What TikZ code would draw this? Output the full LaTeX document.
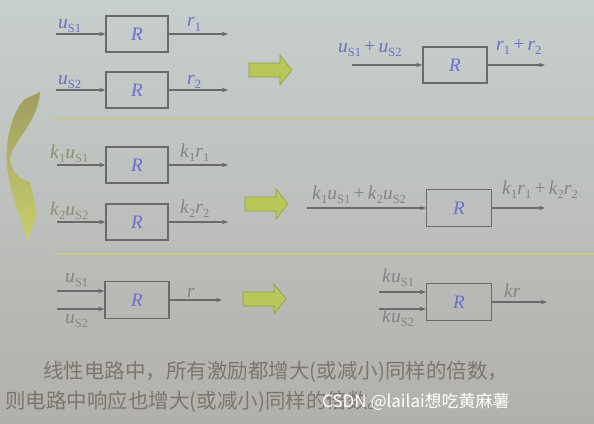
\documentclass[tikz,border=0pt]{standalone}
\usepackage{fontspec}
\setmainfont{Liberation Serif}
\newfontfamily\cjk{Noto Sans CJK SC}
\usetikzlibrary{arrows.meta}
\definecolor{labblue}{HTML}{6A6EC4}
\definecolor{labolive}{HTML}{8A9070}
\definecolor{labgrey}{HTML}{838383}
\definecolor{rblue}{HTML}{6B6FCC}
\definecolor{lineg}{HTML}{6A6A6A}
\definecolor{sepc}{HTML}{C9C88F}
\definecolor{garrfill}{HTML}{B8C65A}
\definecolor{garrdraw}{HTML}{93A045}
\definecolor{txtc}{HTML}{7C766E}
\newcommand\myvs[2]{\textit{#1}\raisebox{-0.5ex}{\fontsize{12.5}{12.5}\selectfont #2}}
\tikzset{
  rbox/.style={draw=lineg, line width=1.4pt, minimum width=62pt, minimum height=36pt,
    inner sep=0pt, font=\fontsize{19}{19}\selectfont\itshape, text=rblue},
  sig/.style={draw=lineg, line width=1.2pt, -{Stealth[length=6pt,width=4.5pt]}},
  lab/.style={anchor=base west, inner sep=0pt, font=\fontsize{19.5}{19.5}\selectfont},
  sepline/.style={draw=sepc, line width=2.5pt},
  pics/garrow/.style={code={
    \draw[fill=garrfill, draw=garrdraw, line width=0.6pt]
      (0,-7) -- (31,-7) -- (31,-15) -- (43,0) -- (31,15) -- (31,7) -- (0,7) -- cycle;}},
  ctext/.style={anchor=west, inner sep=0pt, text=txtc, font=\cjk\fontsize{20.5}{20.5}\selectfont}
}
\begin{document}
\begin{tikzpicture}[x=1pt,y=-1pt]
\useasboundingbox (0,0) rectangle (594,423);
\shade[top color={rgb,255:red,199;green,207;blue,205}, bottom color={rgb,255:red,178;green,176;blue,171}] (0,0) rectangle (594,423);

% separators
\draw[sepline] (55,118) -- (594,118);
\draw[sepline] (55,254) -- (594,254);

% curved arrow
\shade[top color={rgb,255:red,160;green,156;blue,96}, bottom color={rgb,255:red,200;green,206;blue,110}]
  (40,92) -- (25,99) .. controls (12,112) and (5,140) .. (7,165)
  .. controls (10,195) and (20,215) .. (28,240) -- (37,213) -- (30,182)
  .. controls (20,180) and (11,172) .. (10,160)
  .. controls (10,145) and (33,128) .. (39,100) -- cycle;

% ---------- Row 1 ----------
\node[rbox] (b1) at (137,34) {R};
\coordinate (i1) at (56,34); \coordinate (o1) at (228,34);
\draw[sig] (i1) -- (b1); \draw[sig] (b1) -- (o1);
\node[lab, text=labblue] (l1) at (58,28) {\myvs{u}{S1}};
\node[lab, text=labblue] (r1) at (187,27) {\myvs{r}{1}};

\node[rbox] (b2) at (137,90) {R};
\coordinate (i2) at (56,90); \coordinate (o2) at (228,90);
\draw[sig] (i2) -- (b2); \draw[sig] (b2) -- (o2);
\node[lab, text=labblue] (l2) at (58,84) {\myvs{u}{S2}};
\node[lab, text=labblue] (r2) at (187,84) {\myvs{r}{2}};

\pic at (249,70) {garrow};

\node[rbox, minimum width=64pt] (b3) at (455,65) {R};
\coordinate (i3) at (352,65); \coordinate (o3) at (545,65);
\draw[sig] (i3) -- (b3); \draw[sig] (b3) -- (o3);
\node[lab, text=labblue] (l3) at (338,52) {\myvs{u}{S1}\,+\,\myvs{u}{S2}};
\node[lab, text=labblue] (r3) at (496,50) {\myvs{r}{1}\,+\,\myvs{r}{2}};

% ---------- Row 2 ----------
\node[rbox] (b4) at (137,165) {R};
\coordinate (i4) at (57,165); \coordinate (o4) at (228,165);
\draw[sig] (i4) -- (b4); \draw[sig] (b4) -- (o4);
\node[lab, text=labolive] (l4) at (50,158) {\myvs{k}{1}\myvs{u}{S1}};
\node[lab, text=labgrey] (r4) at (180,157) {\myvs{k}{1}\myvs{r}{1}};

\node[rbox] (b5) at (137,222) {R};
\coordinate (i5) at (57,222); \coordinate (o5) at (228,222);
\draw[sig] (i5) -- (b5); \draw[sig] (b5) -- (o5);
\node[lab, text=labolive] (l5) at (50,215) {\myvs{k}{2}\myvs{u}{S2}};
\node[lab, text=labgrey] (r5) at (180,213) {\myvs{k}{2}\myvs{r}{2}};

\pic at (245,204) {garrow};

\node[rbox, minimum width=65pt, minimum height=37pt] (b6) at (459,208) {R};
\coordinate (i6) at (307,208); \coordinate (o6) at (545,208);
\draw[sig] (i6) -- (b6); \draw[sig] (b6) -- (o6);
\node[lab, text=labgrey] (l6) at (312,199) {\myvs{k}{1}\myvs{u}{S1}\,+\,\myvs{k}{2}\myvs{u}{S2}};
\node[lab, text=labgrey] (r6) at (502,194) {\myvs{k}{1}\myvs{r}{1}\,+\,\myvs{k}{2}\myvs{r}{2}};

% ---------- Row 3 ----------
\node[rbox, minimum width=64pt, minimum height=37pt] (b7) at (137,300) {R};
\coordinate (i7a) at (57,291); \coordinate (i7b) at (57,309); \coordinate (o7) at (222,300);
\draw[sig] (i7a) -- (i7a -| b7.west);
\draw[sig] (i7b) -- (i7b -| b7.west);
\draw[sig] (b7) -- (o7);
\node[lab, text=labgrey] (l7a) at (65,282) {\myvs{u}{S1}};
\node[lab, text=labgrey] (l7b) at (65,323) {\myvs{u}{S2}};
\node[lab, text=labgrey] (r7) at (187,297) {\textit{r}};

\pic at (243,299) {garrow};

\node[rbox, minimum width=65pt, minimum height=37pt] (b8) at (459,302) {R};
\coordinate (i8a) at (379,292); \coordinate (i8b) at (379,309); \coordinate (o8) at (547,302);
\draw[sig] (i8a) -- (i8a -| b8.west);
\draw[sig] (i8b) -- (i8b -| b8.west);
\draw[sig] (b8) -- (o8);
\node[lab, text=labgrey] (l8a) at (382,282) {\textit{k}\myvs{u}{S1}};
\node[lab, text=labgrey] (l8b) at (382,322) {\textit{k}\myvs{u}{S2}};
\node[lab, text=labgrey] (r8) at (504,297) {\textit{kr}};

% ---------- Text ----------
\node[ctext] (t1) at (43,372) {线性电路中，所有激励都增大(或减小)同样的倍数，};
\node[ctext] (t2) at (5,402) {则电路中响应也增大(或减小)同样的倍数。};
\node[anchor=west, inner sep=0pt, text=white, font=\cjk\fontsize{17}{17}\selectfont] (wm) at (322,402) {CSDN @lailai想吃黄麻薯};
\end{tikzpicture}
\end{document}
